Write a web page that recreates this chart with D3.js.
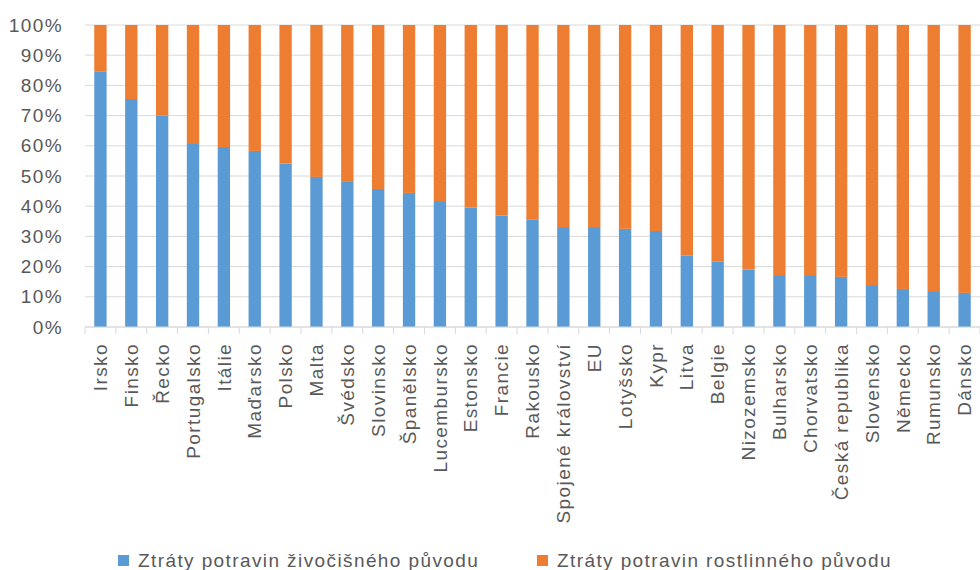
<!DOCTYPE html>
<html>
<head>
<meta charset="utf-8">
<script src="https://cdn.jsdelivr.net/npm/d3@7"></script>
<style>
  html, body { margin: 0; padding: 0; background: #fff; }
  svg { display: block; }
  text { font-family: "Liberation Sans", Arial, sans-serif; fill: #595959; }
</style>
</head>
<body>
<svg id="chart" width="980" height="570"></svg>
<script>
// Země / kategorie
const categories = [
  "Irsko", "Finsko", "Řecko", "Portugalsko", "Itálie", "Maďarsko", "Polsko",
  "Malta", "Švédsko", "Slovinsko", "Španělsko", "Lucembursko", "Estonsko",
  "Francie", "Rakousko", "Spojené království", "EU", "Lotyšsko", "Kypr",
  "Litva", "Belgie", "Nizozemsko", "Bulharsko", "Chorvatsko",
  "Česká republika", "Slovensko", "Německo", "Rumunsko", "Dánsko"
];

// Podíl ztrát potravin živočišného původu (%)
const animalShare = [
  84.5, 75.5, 70.0, 60.9, 59.6, 58.3, 54.1, 49.7, 48.3, 45.7, 44.4, 41.7,
  39.5, 36.9, 35.5, 33.1, 33.1, 32.5, 31.8, 23.6, 21.6, 19.0, 17.2, 17.2,
  16.6, 13.9, 12.6, 11.9, 11.3
];

// Podíl ztrát potravin rostlinného původu (%)
const plantShare = animalShare.map(v => +(100 - v).toFixed(1));

const seriesNames = [
  "Ztráty potravin živočišného původu",
  "Ztráty potravin rostlinného původu"
];
const seriesColors = ["#5B9BD5", "#ED7D31"];
const yTicks = [0, 10, 20, 30, 40, 50, 60, 70, 80, 90, 100];

const rows = categories.map((c, i) => ({ cat: c, animal: animalShare[i], plant: plantShare[i] }));
const stack = d3.stack().keys(["animal", "plant"])(rows);

const svg = d3.select("#chart");
const margin = { left: 85, right: 0, top: 25, bottom: 243 };
const W = 980, H = 570;
const fontSize = "19px";
const spacing = "1.4px";

const x = d3.scaleBand()
  .domain(categories)
  .range([margin.left, W - margin.right])
  .paddingInner(0.6)
  .paddingOuter(0.3);

const y = d3.scaleLinear().domain([0, 100]).range([H - margin.bottom, margin.top]);

// mřížka
svg.append("g")
  .selectAll("line")
  .data(yTicks)
  .join("line")
  .attr("x1", margin.left)
  .attr("x2", W - margin.right)
  .attr("y1", d => y(d))
  .attr("y2", d => y(d))
  .attr("stroke", "#D9D9D9")
  .attr("stroke-width", 1);

// popisky osy Y
const yAxis = d3.axisLeft(y).tickValues(yTicks).tickFormat(d => d + "%").tickSize(0).tickPadding(22);
const gy = svg.append("g").attr("transform", `translate(${margin.left},0)`).call(yAxis);
gy.select(".domain").remove();
gy.selectAll("text")
  .style("font-size", fontSize)
  .style("letter-spacing", spacing)
  .style("fill", "#595959")
  .attr("font-family", null);

// sloupce
svg.append("g")
  .selectAll("g")
  .data(stack)
  .join("g")
  .attr("fill", (d, i) => seriesColors[i])
  .selectAll("rect")
  .data(d => d)
  .join("rect")
  .attr("x", d => x(d.data.cat))
  .attr("width", x.bandwidth())
  .attr("y", d => y(d[1]))
  .attr("height", d => y(d[0]) - y(d[1]));

// osa X
const step = x.step();
const base = y(0);
const gx = svg.append("g");
gx.append("line")
  .attr("x1", margin.left).attr("x2", W - margin.right)
  .attr("y1", base).attr("y2", base)
  .attr("stroke", "#D9D9D9");
gx.selectAll("line.tick")
  .data(d3.range(categories.length + 1))
  .join("line")
  .attr("class", "tick")
  .attr("x1", i => margin.left + i * step)
  .attr("x2", i => margin.left + i * step)
  .attr("y1", base)
  .attr("y2", base + 7)
  .attr("stroke", "#D9D9D9");

gx.selectAll("text")
  .data(categories)
  .join("text")
  .attr("transform", d => `translate(${x(d) + x.bandwidth() / 2},${base + 16}) rotate(-90)`)
  .attr("text-anchor", "end")
  .attr("dy", "0.35em")
  .style("font-size", fontSize)
  .style("letter-spacing", spacing)
  .text(d => d);

// legenda
const legendPos = [118, 537];
const lg = svg.append("g");
seriesNames.forEach((name, i) => {
  lg.append("rect")
    .attr("x", legendPos[i]).attr("y", 555)
    .attr("width", 11).attr("height", 11)
    .attr("fill", seriesColors[i]);
  lg.append("text")
    .attr("x", legendPos[i] + 20).attr("y", 567)
    .style("font-size", fontSize)
    .style("letter-spacing", spacing)
    .text(name);
});
</script>
</body>
</html>
